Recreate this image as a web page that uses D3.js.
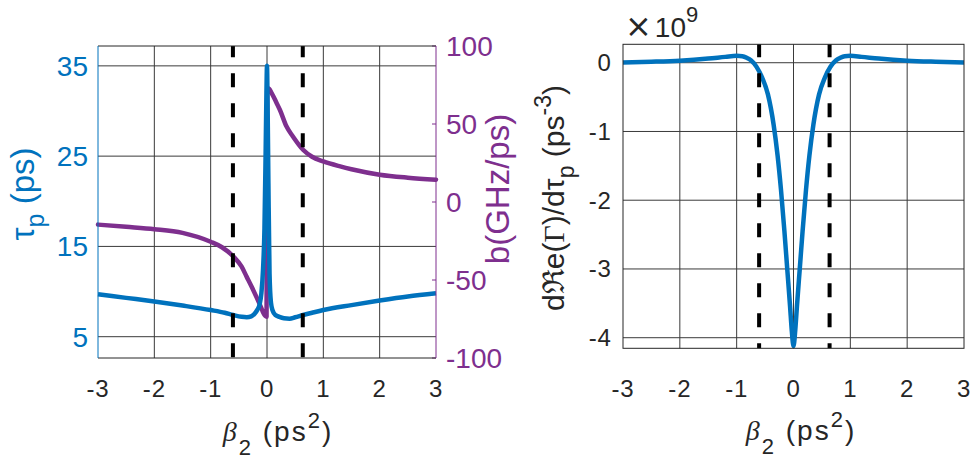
<!DOCTYPE html>
<html>
<head>
<meta charset="utf-8">
<script src="https://cdn.jsdelivr.net/npm/d3@7"></script>
<style>
  html, body { margin: 0; padding: 0; background: #fff; }
  svg { display: block; }
  text { font-family: "Liberation Sans", Arial, Helvetica, sans-serif; }
</style>
</head>
<body>
<svg id="chart" width="975" height="462"></svg>
<script>
// ---------------- data ----------------
const xTicks = [-3, -2, -1, 0, 1, 2, 3];
const tauTicks = [5, 15, 25, 35];
const bTicks = [-100, -50, 0, 50, 100];
const gTicks = [-4, -3, -2, -1, 0];
const dashedBeta = [-0.605, 0.635];

// left panel, blue: pulse width tau_p (ps) vs beta2 (ps^2)
const betaTau = [-3, -2.5, -2, -1.5, -1, -0.75, -0.6, -0.45, -0.36, -0.28, -0.22, -0.17, -0.13, -0.1, -0.07, -0.045, -0.025, -0.01, 0, 0.01, 0.025, 0.045, 0.07, 0.1, 0.15, 0.22, 0.3, 0.4, 0.5, 0.64, 0.8, 1, 1.5, 2, 2.5, 3];
const tauP = [9.7, 9.3, 8.9, 8.45, 7.95, 7.65, 7.4, 7.2, 7.15, 7.25, 7.55, 8.0, 8.6, 9.8, 12.5, 17, 25, 32, 35, 31, 22, 12, 8.8, 7.9, 7.4, 7.2, 7.05, 7.0, 7.15, 7.4, 7.65, 7.95, 8.5, 9.0, 9.45, 9.8];

// left panel, purple: chirp b (GHz/ps) vs beta2
const betaB = [-3, -2.5, -2, -1.5, -1, -0.8, -0.6, -0.45, -0.36, -0.27, -0.18, -0.1, -0.06, -0.03, -0.008, 0.004, 0.03, 0.08, 0.17, 0.23, 0.345, 0.46, 0.64, 0.8, 1, 1.3, 1.5, 2, 2.5, 3];
const bVal = [-14.5, -15.9, -17.4, -19.8, -25.5, -29, -34.8, -41.5, -48, -54.5, -61.5, -68, -71.5, -73, -73.5, 72.5, 72.8, 70, 63.5, 59, 48.5, 42, 33.5, 29, 26, 22.8, 21, 17.5, 15.6, 14.3];

// right panel: dRe(Gamma)/dtau_p (x 1e9 ps^-3) vs beta2
const betaG = [-3, -2.5, -2, -1.5, -1.2, -1, -0.9, -0.82, -0.75, -0.65, -0.55, -0.45, -0.35, -0.28, -0.22, -0.16, -0.11, -0.06, -0.03, 0, 0.03, 0.06, 0.11, 0.16, 0.22, 0.28, 0.35, 0.45, 0.55, 0.65, 0.75, 0.82, 0.9, 1, 1.2, 1.5, 2, 2.5, 3];
const gVal = [0.005, 0.015, 0.03, 0.06, 0.085, 0.1, 0.095, 0.07, 0.035, -0.06, -0.22, -0.46, -0.9, -1.35, -1.85, -2.45, -3.0, -3.55, -3.9, -4.12, -3.9, -3.55, -3.0, -2.45, -1.85, -1.35, -0.9, -0.46, -0.22, -0.06, 0.035, 0.07, 0.095, 0.1, 0.085, 0.06, 0.03, 0.015, 0.005];

// ---------------- drawing ----------------
const BLUE = "#0072BD", PURPLE = "#7E2F8E", AX = "#262626", GRID = "#3a3a3a";
const LW = 4.5;
const svg = d3.select("#chart");

function label(g, parts, attrs) {
  const t = g.append("text");
  Object.entries(attrs).forEach(([k, v]) => t.attr(k, v));
  let cur = 0;
  parts.forEach(p => {
    const s = t.append("tspan").text(p.t);
    const shift = p.shift || 0;
    if (shift !== cur) { s.attr("dy", shift - cur); cur = shift; }
    if (p.dx) s.attr("dx", p.dx);
    if (p.size) s.attr("font-size", p.size);
    if (p.family) s.attr("font-family", p.family);
    if (p.style) s.attr("font-style", p.style);
  });
  return t;
}

function panel(opts) {
  const g = svg.append("g");
  const x = d3.scaleLinear().domain([-3, 3]).range([opts.x0, opts.x1]);
  const y = d3.scaleLinear().domain(opts.yDom).range([opts.y1, opts.y0]);
  g.append("g").selectAll("line").data(xTicks.slice(1, -1)).join("line")
    .attr("x1", d => x(d)).attr("x2", d => x(d))
    .attr("y1", opts.y0).attr("y2", opts.y1)
    .attr("stroke", GRID).attr("stroke-width", 1);
  g.append("g").selectAll("line").data(opts.yTicks.filter(v => y(v) > opts.y0 + 1 && y(v) < opts.y1 - 1)).join("line")
    .attr("x1", opts.x0).attr("x2", opts.x1)
    .attr("y1", d => y(d)).attr("y2", d => y(d))
    .attr("stroke", GRID).attr("stroke-width", 1);
  g.append("g").selectAll("text").data(xTicks).join("text")
    .attr("x", d => x(d)).attr("y", 397)
    .attr("text-anchor", "middle").attr("font-size", 24).attr("letter-spacing", 0.8).attr("fill", AX)
    .text(d => d);
  return { g, x, y };
}

// ----- left panel -----
const L = panel({ x0: 98, x1: 436, y0: 46, y1: 358, yDom: [2.64, 37.2], yTicks: tauTicks });
const yB = d3.scaleLinear().domain([-100, 100]).range([358, 46]);

L.g.append("g").selectAll("line").data(bTicks).join("line")
  .attr("x1", 436).attr("x2", 432).attr("y1", d => yB(d)).attr("y2", d => yB(d))
  .attr("stroke", PURPLE).attr("stroke-width", 1);

const lineL = d3.line().curve(d3.curveMonotoneX);
L.g.append("path")
  .attr("d", lineL(betaB.map((b, i) => [L.x(b), yB(bVal[i])])))
  .attr("fill", "none").attr("stroke", PURPLE).attr("stroke-width", LW)
  .attr("stroke-linejoin", "round").attr("stroke-linecap", "round");
L.g.append("path")
  .attr("d", lineL(betaTau.map((b, i) => [L.x(b), L.y(tauP[i])])))
  .attr("fill", "none").attr("stroke", BLUE).attr("stroke-width", LW)
  .attr("stroke-linejoin", "round");

L.g.append("g").selectAll("line").data(dashedBeta).join("line")
  .attr("x1", d => L.x(d)).attr("x2", d => L.x(d)).attr("y1", 46).attr("y2", 358)
  .attr("stroke", "#000").attr("stroke-width", 4)
  .attr("stroke-dasharray", "14,16").attr("stroke-dashoffset", 2.7);

L.g.append("line").attr("x1", 98).attr("x2", 436).attr("y1", 46).attr("y2", 46).attr("stroke", AX);
L.g.append("line").attr("x1", 98).attr("x2", 436).attr("y1", 358).attr("y2", 358).attr("stroke", AX);
L.g.append("line").attr("x1", 98).attr("x2", 98).attr("y1", 46).attr("y2", 358).attr("stroke", BLUE);
L.g.append("line").attr("x1", 436).attr("x2", 436).attr("y1", 46).attr("y2", 358).attr("stroke", PURPLE);

L.g.append("g").selectAll("text").data(tauTicks).join("text")
  .attr("x", 88).attr("y", d => L.y(d) + 10)
  .attr("text-anchor", "end").attr("font-size", 28).attr("fill", BLUE)
  .text(d => d);
L.g.append("g").selectAll("text").data(bTicks).join("text")
  .attr("x", 446).attr("y", d => yB(d) + 10)
  .attr("text-anchor", "start").attr("font-size", 28).attr("fill", PURPLE)
  .text(d => d);

label(L.g, [{ t: "τ" }, { t: "p", shift: 10, size: 25 }, { t: " (ps)", shift: 0 }],
  { transform: "translate(34,194) rotate(-90)", "text-anchor": "middle", "font-size": 33, fill: BLUE });
label(L.g, [{ t: "b(GHz/ps)" }],
  { transform: "translate(509,189) rotate(-90)", "text-anchor": "middle", "font-size": 33, fill: PURPLE });
label(L.g, [{ t: "β", family: "Liberation Serif", style: "italic" }, { t: "2", shift: 14, size: 22 }, { t: " (ps", shift: 0 }, { t: "2", shift: -13, size: 22 }, { t: ")", shift: 0 }],
  { x: 278, y: 441, "text-anchor": "middle", "font-size": 28, "letter-spacing": 2, fill: AX });

// ----- right panel -----
const R = panel({ x0: 623, x1: 964, y0: 44.3, y1: 348.3, yDom: [-4.154, 0.268], yTicks: gTicks });
R.g.append("path")
  .attr("d", d3.line().curve(d3.curveMonotoneX)(betaG.map((b, i) => [R.x(b), R.y(gVal[i])])))
  .attr("fill", "none").attr("stroke", BLUE).attr("stroke-width", LW)
  .attr("stroke-linejoin", "round");
R.g.append("g").selectAll("line").data(dashedBeta).join("line")
  .attr("x1", d => R.x(d)).attr("x2", d => R.x(d)).attr("y1", 44.3).attr("y2", 348.3)
  .attr("stroke", "#000").attr("stroke-width", 4)
  .attr("stroke-dasharray", "14,16").attr("stroke-dashoffset", 1);
R.g.append("rect").attr("x", 623).attr("y", 44.3).attr("width", 341).attr("height", 304)
  .attr("fill", "none").attr("stroke", AX);
R.g.append("g").selectAll("text").data(gTicks).join("text")
  .attr("x", 611.7).attr("y", d => R.y(d) + 8.5)
  .attr("text-anchor", "end").attr("font-size", 24).attr("letter-spacing", 0.8).attr("fill", AX)
  .text(d => d);
label(R.g, [{ t: "×", size: 32, family: "DejaVu Sans" }, { t: "10", dx: 3 }, { t: "9", shift: -15, size: 22 }],
  { x: 625, y: 37, "text-anchor": "start", "font-size": 28, fill: AX });
label(R.g, [{ t: "d" }, { t: "ℜ", family: "DejaVu Serif" }, { t: "e(" }, { t: "Γ", family: "Liberation Serif" }, { t: ")/d" }, { t: "τ" }, { t: "p", shift: 10, size: 23 }, { t: " (ps", shift: 0 }, { t: "-3", shift: -13, size: 23 }, { t: ")", shift: 0 }],
  { transform: "translate(564,198) rotate(-90)", "text-anchor": "middle", "font-size": 30, fill: AX });
label(R.g, [{ t: "β", family: "Liberation Serif", style: "italic" }, { t: "2", shift: 14, size: 22 }, { t: " (ps", shift: 0 }, { t: "2", shift: -13, size: 22 }, { t: ")", shift: 0 }],
  { x: 801, y: 440, "text-anchor": "middle", "font-size": 28, "letter-spacing": 2, fill: AX });
</script>
</body>
</html>
